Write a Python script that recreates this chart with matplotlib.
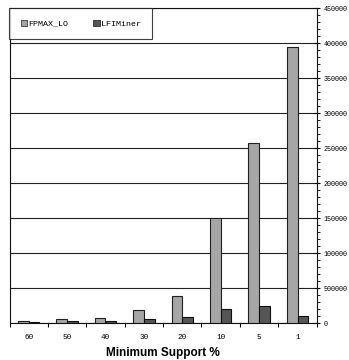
import matplotlib
matplotlib.use("Agg")
import matplotlib.pyplot as plt
from matplotlib.ticker import MultipleLocator, FixedLocator
import numpy as np

categories = ["60", "50", "40", "30", "20", "10", "5", "1"]
fpmax_lo = [33000, 61000, 71000, 186000, 394000, 1510000, 2580000, 3950000]
lfiminer = [18000, 33000, 33000, 57000, 94000, 200000, 247000, 104000]
y_ticks = [0, 500000, 1000000, 1500000, 2000000, 2500000, 3000000, 3500000, 4000000, 4500000]
y_tick_labels = ["0", "500000", "100000", "150000", "200000", "250000",
                 "300000", "350000", "400000", "450000"]
series_names = ["FPMAX_LO", "LFIMiner"]
x_label = "Minimum Support %"

W, H = 349, 360
fig = plt.figure(figsize=(W / 100, H / 100), dpi=100)
ax = fig.add_axes([9.5 / W, 1 - 323.3 / H, (316.7 - 9.5) / W, (323.3 - 8.3) / H])

x = np.arange(len(categories))
bw = 0.28
ax.bar(x - bw / 2, fpmax_lo, bw, color="#a6a6a6", edgecolor="#202020", linewidth=0.8,
       label=series_names[0], zorder=3)
ax.bar(x + bw / 2, lfiminer, bw, color="#555555", edgecolor="#101010", linewidth=0.8,
       label=series_names[1], zorder=3)

ax.set_xlim(-0.5, len(categories) - 0.5)
ax.set_ylim(0, 4500000)

# y axis on right
ax.yaxis.tick_right()
ax.set_yticks(y_ticks)
ax.set_yticklabels(y_tick_labels, fontfamily="Liberation Mono", fontsize=4.9)
ax.yaxis.set_minor_locator(MultipleLocator(100000))
ax.tick_params(axis="y", which="major", direction="inout", length=5, width=0.8, pad=2.5)
ax.tick_params(axis="y", which="minor", direction="out", length=2, width=0.6)
ax.grid(axis="y", which="major", color="#222222", linewidth=0.8, zorder=0)

# x axis
ax.set_xticks(x)
ax.set_xticklabels(categories, fontfamily="Liberation Mono", fontsize=5.5)
ax.tick_params(axis="x", which="major", length=0, pad=8)
ax.xaxis.set_minor_locator(FixedLocator(np.arange(-0.5, len(categories), 1.0)))
ax.tick_params(axis="x", which="minor", direction="out", length=3, width=0.8)
ax.set_xlabel(x_label, fontfamily="Liberation Sans", fontweight="bold", fontsize=8.5, labelpad=4)

for s in ["left", "right", "bottom", "top"]:
    ax.spines[s].set_color("#111111")
    ax.spines[s].set_linewidth(0.8)

leg = ax.legend(loc="upper left", bbox_to_anchor=(0, 1, 142.5 / 307.2, 0), mode="expand",
                ncol=2, prop={"family": "Liberation Mono", "size": 6},
                frameon=True, fancybox=False, handlelength=0.8, handleheight=0.8,
                handletextpad=0.1, borderpad=1.35, borderaxespad=0, columnspacing=1.5)
leg.get_frame().set_edgecolor("#111111")
leg.get_frame().set_linewidth(0.8)
for p in leg.get_patches():
    p.set_linewidth(0.5)

fig.savefig("out.png", dpi=100)
